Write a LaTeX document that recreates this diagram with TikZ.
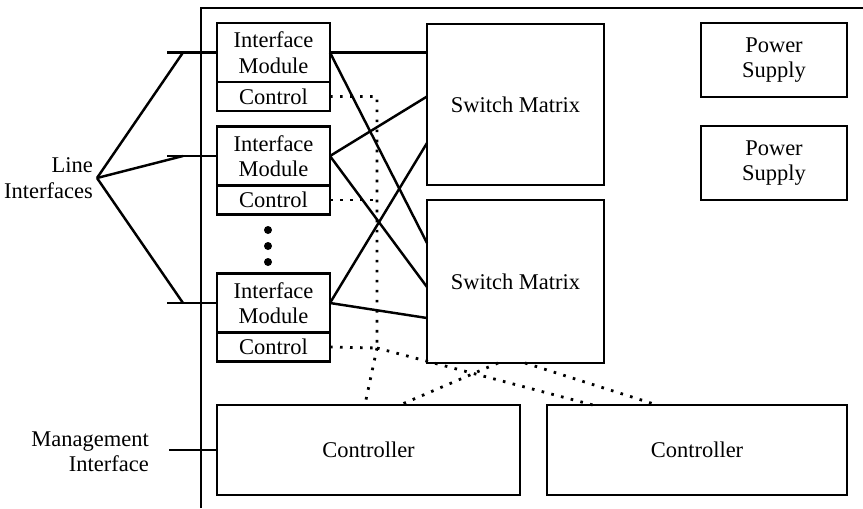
\documentclass[tikz,border=0pt]{standalone}
\usepackage{fontspec}
\setmainfont{Liberation Serif}
\usetikzlibrary{calc}

\begin{document}
\begin{tikzpicture}[x=0.02cm,y=-0.02cm,line width=1.4pt,
    font=\fontsize{12.8}{14.5}\selectfont,
    blocco/.style={draw,rectangle,inner sep=0pt,outer sep=0pt,align=center},
    punti/.style={line width=1.6pt,dash pattern=on 1.5pt off 4.2pt}]
  \useasboundingbox (0,0) rectangle (863,508);
  % telaio
  \draw (201,508) -- (201,8) -- (863,8);

  % moduli di interfaccia con controllo
  \foreach \n/\y in {1/52.5,2/156,3/303} {
    \node[blocco,minimum width=2.26cm,minimum height=1.18cm] (m\n) at (273.5,\y) {Interface\\Module};
    \node[blocco,minimum width=2.26cm,minimum height=0.58cm,anchor=north] (c\n) at (m\n.south) {Control};
    \coordinate (l\n) at (167,\y);
    \draw (l\n) -- (m\n.west);
  }
  \foreach \y in {230,246,262} {
    \fill (268,\y) circle (0.08cm);
  }

  % matrici, alimentatori, controller
  \node[blocco,minimum width=3.54cm,minimum height=3.22cm] (sm1) at (515.5,104.5) {Switch Matrix};
  \node[blocco,minimum width=3.54cm,minimum height=3.26cm] (sm2) at (515.5,281.5) {Switch Matrix};
  \node[blocco,minimum width=2.92cm,minimum height=1.48cm] (ps1) at (774,60) {Power\\Supply};
  \node[blocco,minimum width=2.92cm,minimum height=1.48cm] (ps2) at (774,163) {Power\\Supply};
  \node[blocco,minimum width=6.06cm,minimum height=1.8cm] (ctl1) at (368.5,450) {Controller};
  \node[blocco,minimum width=6.0cm,minimum height=1.8cm] (ctl2) at (697,450) {Controller};

  % etichette esterne
  \node[align=right,inner sep=1.7pt,anchor=east] (li) at (97,178) {Line\\Interfaces};
  \node[align=right,inner sep=0pt,anchor=east] (mi) at (150,452) {Management\\Interface};
  \coordinate (ms) at (169,450);
  \draw (ms) -- (ctl1.west);
  \foreach \n in {1,2,3} {
    \draw (li.east) -- ($(l\n)!0.32!(m\n.west)$);
  }

  % collegamenti moduli - matrici
  \draw (m1.east) -- (sm1.west |- m1.east);
  \draw (m1.east) -- ($(sm2.north west)!0.264!(sm2.south west)$);
  \draw (m2.east) -- (sm1.west |- c1.east);
  \draw (m2.east) -- ($(sm2.north west)!0.534!(sm2.south west)$);
  \draw (m3.east) -- ($(sm1.north west)!0.739!(sm1.south west)$);
  \draw (m3.east) -- ($(sm2.north west)!0.724!(sm2.south west)$);

  % bus di controllo
  \coordinate (b1) at (377,96.5);
  \coordinate (b3) at (377,348);
  \draw[punti] (c1.east) -- (b1) -- (b3);
  \draw[punti] (c2.east) -- (b1 |- c2.east);
  \draw[punti] (c3.east) -- (b3);
  \draw[punti] (b3) -- ($(ctl1.north west)!0.488!(ctl1.north east)$);
  \draw[punti] (b3) -- ($(ctl2.north west)!0.153!(ctl2.north east)$);
  \draw[punti] ($(sm2.south west)!0.401!(sm2.south east)$) -- ($(ctl1.north west)!0.604!(ctl1.north east)$);
  \draw[punti] ($(sm2.south west)!0.554!(sm2.south east)$) -- ($(ctl2.north west)!0.367!(ctl2.north east)$);
\end{tikzpicture}
\end{document}
